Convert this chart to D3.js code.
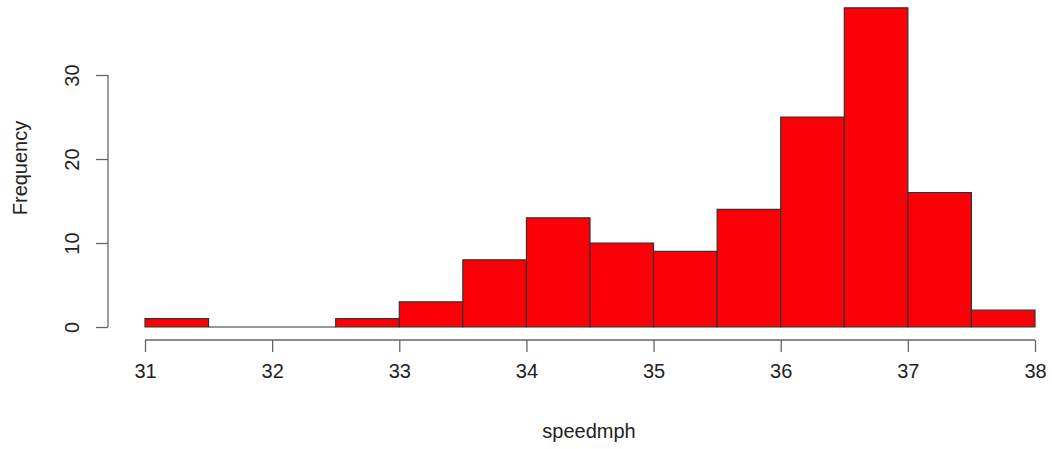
<!DOCTYPE html>
<html lang="en">
<head>
<meta charset="utf-8">
<title>Histogram of speedmph</title>
<script src="https://cdn.jsdelivr.net/npm/d3@7"></script>
<style>
  body { margin: 0; background: #fff; }
  text { font-family: "Liberation Sans", Arial, sans-serif; fill: #222; }
</style>
</head>
<body>
<script>
// bin edges (speedmph) and counts per bin
var binStart = [31, 31.5, 32, 32.5, 33, 33.5, 34, 34.5, 35, 35.5, 36, 36.5, 37, 37.5];
var binWidth = 0.5;
var counts = [1, 0, 0, 1, 3, 8, 13, 10, 9, 14, 25, 38, 16, 2];
var xTicks = [31, 32, 33, 34, 35, 36, 37, 38];
var yTicks = [0, 10, 20, 30];

var w = 1052, h = 449;

var svg = d3.select('body').append('svg')
    .attr('width', w)
    .attr('height', h);

var x = d3.scaleLinear().domain([31, 38]).range([145, 1035]);
var y = d3.scaleLinear().domain([0, 30]).range([327, 75]);

var bins = binStart.map(function(s, i) { return { x0: s, x1: s + binWidth, n: counts[i] }; });

// drawn as closed paths so that empty bins still show as a flat line like R does
svg.selectAll('path.bar')
    .data(bins)
    .enter()
    .append('path')
    .attr('class', 'bar')
    .attr('d', function(d) {
        var x0 = x(d.x0), x1 = x(d.x1), y0 = y(0), y1 = y(d.n);
        return 'M' + x0 + ',' + y0 + 'V' + y1 + 'H' + x1 + 'V' + y0 + 'Z';
    })
    .attr('fill', '#fb0007')
    .attr('stroke', '#333')
    .attr('stroke-width', 1.2);

// x axis
var xAxis = d3.axisBottom(x).tickValues(xTicks).tickSize(12).tickPadding(12).tickFormat(d3.format('d'));
var gx = svg.append('g')
    .attr('transform', 'translate(0,340)')
    .call(xAxis);
gx.select('.domain').attr('stroke', '#666').attr('stroke-width', 1.3).attr('d', 'M' + x(31) + ',0H' + x(38));
gx.selectAll('.tick line').attr('stroke', '#666').attr('stroke-width', 1.3);
gx.selectAll('.tick text').attr('font-size', 20).attr('fill', '#222')
    .attr('font-family', '"Liberation Sans", Arial, sans-serif');

// y axis
var yAxis = d3.axisLeft(y).tickValues(yTicks).tickSize(12).tickPadding(0);
var gy = svg.append('g')
    .attr('transform', 'translate(108,0)')
    .call(yAxis);
gy.select('.domain').attr('stroke', '#666').attr('stroke-width', 1.3).attr('d', 'M0,' + y(0) + 'V' + y(30));
gy.selectAll('.tick line').attr('stroke', '#666').attr('stroke-width', 1.3);
gy.selectAll('.tick text')
    .attr('font-size', 20)
    .attr('fill', '#222')
    .attr('font-family', '"Liberation Sans", Arial, sans-serif')
    .attr('x', null).attr('dy', null)
    .attr('text-anchor', 'middle')
    .attr('transform', 'translate(-36,0) rotate(-90)')
    .attr('y', 7);

// axis titles
svg.append('text')
    .attr('x', 589)
    .attr('y', 438)
    .attr('text-anchor', 'middle')
    .attr('font-size', 20)
    .text('speedmph');

svg.append('text')
    .attr('transform', 'translate(27,168) rotate(-90)')
    .attr('text-anchor', 'middle')
    .attr('font-size', 20)
    .text('Frequency');
</script>
</body>
</html>
